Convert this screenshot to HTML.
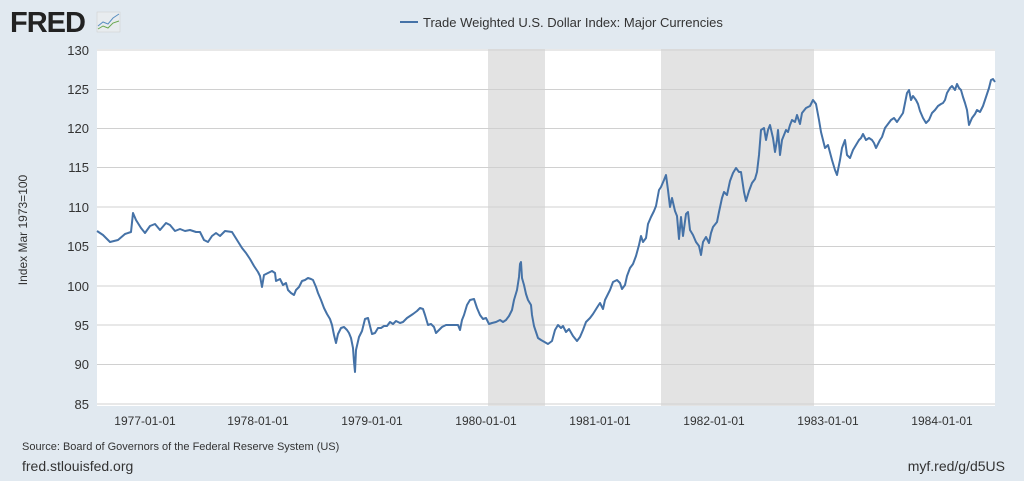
<!DOCTYPE html>
<html><head><meta charset="utf-8"><style>
body{margin:0;background:#e1e9f0;width:1024px;height:476px;overflow:hidden;font-family:"Liberation Sans",sans-serif}
</style></head><body>
<svg width="1024" height="476" xmlns="http://www.w3.org/2000/svg" font-family="Liberation Sans, sans-serif">
<rect width="1024" height="476" fill="#e1e9f0"/>
<text x="10" y="32" font-size="29" font-weight="bold" fill="#222" letter-spacing="-1">FRED</text>
<rect x="97" y="12" width="23" height="20" fill="#e8ecef" stroke="#ccc" stroke-width="0.5"/>
<polyline points="98,26 103,22 108,24 113,18 119,14" fill="none" stroke="#5a8fc0" stroke-width="1"/>
<polyline points="98,29 103,26 108,28 113,23 119,21" fill="none" stroke="#6aa84f" stroke-width="1"/>
<line x1="400" y1="22" x2="418" y2="22" stroke="#4572a7" stroke-width="2"/>
<text x="423" y="27" font-size="13" fill="#333">Trade Weighted U.S. Dollar Index: Major Currencies</text>
<rect x="97" y="49" width="898" height="357" fill="#fff"/>
<rect x="488" y="49" width="57" height="357" fill="#e3e3e3"/>
<rect x="661" y="49" width="153" height="357" fill="#e3e3e3"/>
<g stroke="#d0d0d0" stroke-width="1">
<line x1="97" x2="995" y1="50" y2="50"/><line x1="97" x2="995" y1="89.5" y2="89.5"/><line x1="97" x2="995" y1="128.5" y2="128.5"/><line x1="97" x2="995" y1="167.5" y2="167.5"/><line x1="97" x2="995" y1="207" y2="207"/><line x1="97" x2="995" y1="246.5" y2="246.5"/><line x1="97" x2="995" y1="286" y2="286"/><line x1="97" x2="995" y1="325" y2="325"/><line x1="97" x2="995" y1="364.5" y2="364.5"/><line x1="97" x2="995" y1="404" y2="404"/>
</g>
<g font-size="13" fill="#333" text-anchor="end">
<text x="89" y="55">130</text><text x="89" y="94">125</text><text x="89" y="133">120</text><text x="89" y="172">115</text><text x="89" y="212">110</text><text x="89" y="251">105</text><text x="89" y="291">100</text><text x="89" y="330">95</text><text x="89" y="369">90</text><text x="89" y="409">85</text>
</g>
<text transform="translate(27,230) rotate(-90)" font-size="12" fill="#333" text-anchor="middle">Index Mar 1973=100</text>
<g font-size="12" fill="#333" text-anchor="middle">
<text x="145" y="425">1977-01-01</text><text x="258" y="425">1978-01-01</text><text x="372" y="425">1979-01-01</text><text x="486" y="425">1980-01-01</text><text x="600" y="425">1981-01-01</text><text x="714" y="425">1982-01-01</text><text x="828" y="425">1983-01-01</text><text x="942" y="425">1984-01-01</text>
</g>
<polyline fill="none" stroke="#4572a7" stroke-width="2" stroke-linejoin="round" points="97,231 103,235 110,242 118,240 125,234 131,232 133,213 136,220 141,228 145,233 150,226 155,224 160,230 166,223 170,225 175,231 180,229 185,231 190,230 196,232 200,232 204,240 208,242 212,236 216,233 220,236 225,231 232,232 237,240 242,248 246,253 250,259 254,266 258,272 260,276 262,287 264,275 268,273 272,271 275,273 276,281 280,279 283,285 286,283 288,290 291,293 294,295 296,290 299,287 302,281 305,280 308,278 311,279 313,280 316,287 318,293 321,300 324,308 327,314 330,319 332,325 334,335 336,343 338,334 341,328 344,327 347,330 349,333 351,338 353,348 354,362 355,372 356,350 359,337 362,331 365,319 368,318 370,326 372,334 375,333 378,328 381,328 384,326 387,326 390,322 393,324 396,321 400,323 403,322 407,318 410,316 413,314 417,311 420,308 423,309 425,315 428,325 431,324 434,327 436,333 439,330 442,327 446,325 450,325 454,325 458,325 460,330 462,320 464,315 467,305 470,300 474,299 477,308 480,315 483,319 486,318 489,324 492,323 496,322 500,320 503,322 506,320 509,316 512,310 514,300 517,290 519,277 520,264 521,262 522,278 524,285 526,294 528,300 531,305 532,315 534,326 536,332 538,338 541,340 548,344 552,341 555,330 558,325 561,328 563,326 566,332 569,329 573,336 577,341 580,337 583,330 586,322 590,318 593,314 598,306 600,303 603,309 605,300 608,294 610,290 613,282 617,280 620,283 622,289 625,285 627,276 630,268 633,264 636,256 639,245 641,236 643,242 646,238 648,224 651,217 654,211 656,206 659,190 661,187 664,180 666,175 668,190 670,207 672,198 675,211 677,216 679,239 681,217 683,236 686,214 688,212 690,230 693,235 696,242 699,246 701,255 703,242 706,237 709,243 711,233 713,227 717,222 719,212 722,198 724,192 727,195 730,181 733,173 736,168 739,172 741,172 744,192 746,201 749,191 752,183 755,179 757,172 759,155 761,130 764,128 766,140 768,130 770,125 773,138 775,152 777,140 778,130 780,155 782,140 784,135 786,130 788,132 790,125 792,120 795,122 797,115 800,124 802,113 806,108 810,106 813,100 816,104 819,120 821,132 825,148 828,145 832,160 835,170 837,175 840,160 842,148 845,140 847,155 850,158 853,150 856,145 859,140 861,138 863,134 866,140 869,138 872,140 874,143 876,148 880,140 882,137 885,128 888,124 891,120 894,118 897,122 901,116 903,113 905,103 907,93 909,90 911,100 913,96 916,100 918,104 920,111 923,118 926,123 929,120 932,113 935,110 938,106 941,104 943,103 945,100 947,93 950,88 952,86 955,90 957,84 959,88 961,90 963,97 965,103 967,110 969,125 972,118 975,114 977,110 980,112 983,106 985,100 987,94 989,88 991,80 993,79 995,82"/>
<text x="22" y="450" font-size="11" fill="#333">Source: Board of Governors of the Federal Reserve System (US)</text>
<text x="22" y="471" font-size="14" fill="#333">fred.stlouisfed.org</text>
<text x="1005" y="471" font-size="14" fill="#333" text-anchor="end">myf.red/g/d5US</text>
</svg>
</body></html>
